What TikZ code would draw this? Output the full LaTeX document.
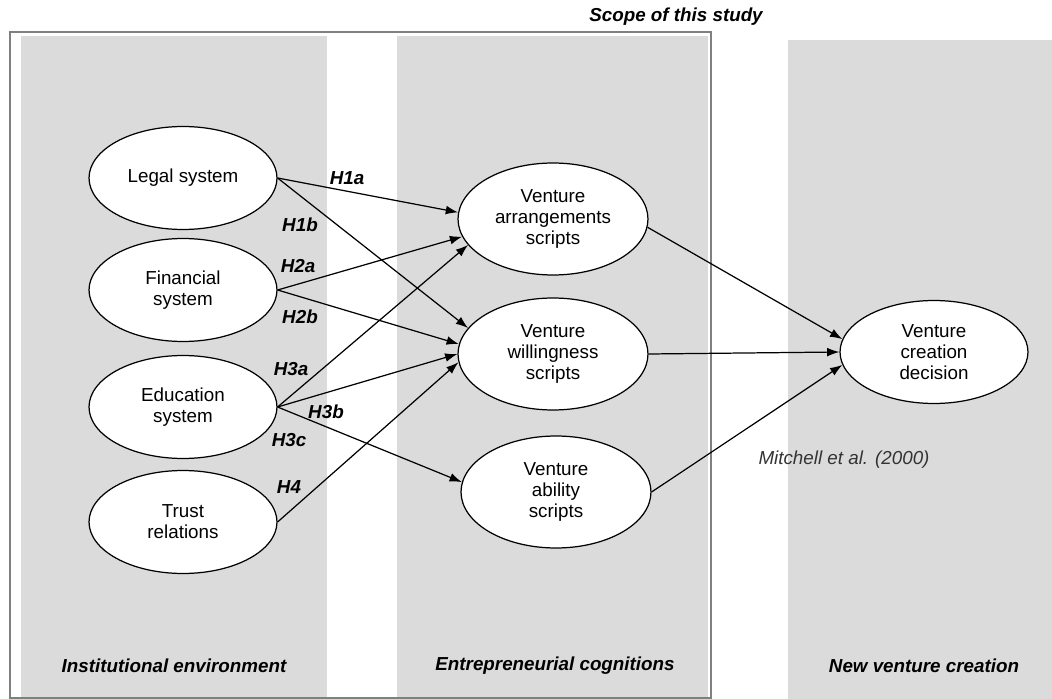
\documentclass[tikz,border=0pt]{standalone}
\usepackage{fontspec}
\setmainfont{Liberation Sans}
\usetikzlibrary{arrows.meta,shapes.geometric}

\begin{document}
\begin{tikzpicture}[x = 0.02cm, y = -0.02cm,
  construct/.style = {ellipse, draw, fill = white, line width = 0.7pt, align = center, inner sep = 0pt, font = \fontsize{10.7}{12}\selectfont},
  hyp/.style = {font = \fontsize{10.7}{12}\selectfont\bfseries\itshape},
  link/.style = {line width = 0.7pt, -{Latex[length = 7pt, width = 5pt]}},
  column/.style = {fill = black!14, draw = none}]
\useasboundingbox (0, 0) rectangle (1052, 699);
% background columns
\fill[column] (21, 36) rectangle (327, 697);
\fill[column] (397, 36) rectangle (708, 697);
\fill[column] (788, 40) rectangle (1052, 699);
\draw[black!50, line width = 1.1pt] (10, 32) rectangle (711, 698);
\node[hyp] (scope) at (676, 17) {Scope of this study};
% institutional environment
\node[construct, minimum width = 3.76cm, minimum height = 2.06cm] (legal) at (183, 178) {Legal system};
\node[construct, minimum width = 3.76cm, minimum height = 2.06cm] (financial) at (183, 290) {Financial\\system};
\node[construct, minimum width = 3.76cm, minimum height = 2.06cm] (education) at (183, 407) {Education\\system};
\node[construct, minimum width = 3.76cm, minimum height = 2.06cm] (trust) at (183, 522) {Trust\\relations};
% entrepreneurial cognitions
\node[construct, minimum width = 3.8cm, minimum height = 2.24cm] (arrange) at (553, 219) {Venture\\arrangements\\scripts};
\node[construct, minimum width = 3.8cm, minimum height = 2.24cm] (willing) at (553, 354) {Venture\\willingness\\scripts};
\node[construct, minimum width = 3.8cm, minimum height = 2.24cm] (ability) at (556, 492) {Venture\\ability\\scripts};
% new venture creation
\node[construct, minimum width = 3.76cm, minimum height = 2.06cm] (creation) at (934, 352) {Venture\\creation\\decision};
% hypotheses
\draw[link] (legal.east) -- (arrange.176);
\draw[link] (legal.east) -- (willing.163);
\draw[link] (financial.east) -- (arrange.191);
\draw[link] (financial.east) -- (willing.174);
\draw[link] (education.east) -- (arrange.197);
\draw[link] (education.east) -- (willing.180);
\draw[link] (education.east) -- (ability.174);
\draw[link] (trust.east) -- (willing.185);
\draw[link] (arrange.355) -- (creation.172);
\draw[link] (willing.east) -- (creation.west);
\draw[link] (ability.east) -- (creation.188);
\node[hyp] (h1a) at (347, 178) {H1a};
\node[hyp] (h1b) at (300, 225) {H1b};
\node[hyp] (h2a) at (298, 266) {H2a};
\node[hyp] (h2b) at (300, 317) {H2b};
\node[hyp] (h3a) at (291, 369) {H3a};
\node[hyp] (h3b) at (326, 412) {H3b};
\node[hyp] (h3c) at (289, 440) {H3c};
\node[hyp] (h4) at (289, 487) {H4};
\node[black!80, font = \fontsize{10.7}{12}\selectfont\itshape] (mitchell) at (844, 460) {Mitchell et al. (2000)};
% column titles
\node[hyp] (inst) at (174, 666) {Institutional environment};
\node[hyp] (cogn) at (555, 666) {Entrepreneurial cognitions};
\node[hyp] (nvc) at (924, 666) {New venture creation};
\end{tikzpicture}
\end{document}
